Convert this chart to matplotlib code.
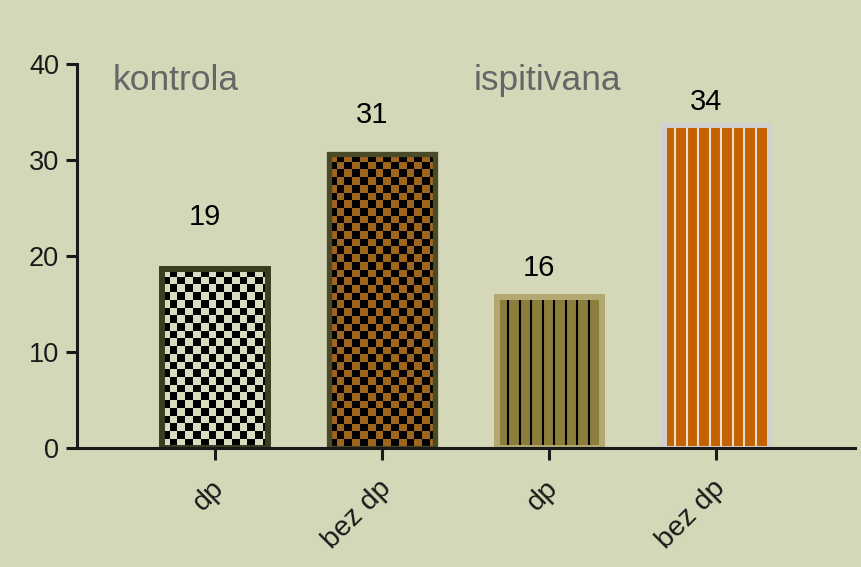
import numpy as np
import matplotlib
matplotlib.use("Agg")
import matplotlib.pyplot as plt

plt.rcParams["font.family"] = ["Liberation Sans", "DejaVu Sans"]

# data
categories = ["dp", "bez dp", "dp", "bez dp"]
values = [18.6, 30.6, 15.7, 33.6]
value_labels = ["19", "31", "16", "34"]
groups = ["kontrola", "ispitivana"]

bg = "#D4D8B8"
face_colors = ["#D8DCBE", "#A0641E", "#8B7D3A", "#C46200"]
edge_colors = ["#3A3F22", "#4B4A26", "#B3A871", "#D0D0D0"]
edge_widths = [4.3, 3.8, 4.3, 3.6]
patterns = ["checker", "checker", "vlines", "vlines"]
pattern_colors = ["black", "black", "black", "#EBDCCB"]

fig = plt.figure(figsize=(8.61, 5.67), dpi=100, facecolor=bg)
ax = fig.add_axes([0.0894, 0.2099, 0.9036, 0.6772])
ax.set_facecolor(bg)

x = np.arange(len(values))
width = 0.63
ax.set_xlim(-0.826, 3.83)
ax.set_ylim(0, 40)

# pixel scales
bbox = ax.get_window_extent()
px_x = bbox.width / (3.83 + 0.826)
px_y = bbox.height / 40.0
cell = 7.7  # checker square size in px
stripe = 11.55  # stripe spacing in px

bars = ax.bar(x, values, width=width, color=face_colors, linewidth=0, zorder=1)

for i, b in enumerate(bars):
    x0 = b.get_x()
    w = b.get_width()
    h = b.get_height()
    if patterns[i] == "checker":
        ncol = int(np.ceil(w * px_x / cell))
        nrow = int(np.ceil(h * px_y / cell))
        board = (np.add.outer(np.arange(nrow), np.arange(ncol)) % 2).astype(float)
        rgba = np.zeros((nrow, ncol, 4))
        light = matplotlib.colors.to_rgba(face_colors[i])
        rgba[board == 0] = light
        rgba[board == 1] = (0, 0, 0, 1)
        ext = (x0, x0 + ncol * cell / px_x, h - nrow * cell / px_y, h)
        im = ax.imshow(rgba, extent=ext, origin="upper", aspect="auto",
                       interpolation="nearest", zorder=2)
        im.set_clip_path(b)
    else:
        xs = np.arange(x0 + stripe / px_x, x0 + w, stripe / px_x)
        lc = ax.vlines(xs, 0, h, colors=pattern_colors[i], linewidth=1.5, zorder=2)
        lc.set_clip_path(b)
    ax.bar(x[i], values[i], width=width, fill=False, edgecolor=edge_colors[i],
           linewidth=edge_widths[i], zorder=3)

ax.set_xlim(-0.826, 3.83)
ax.set_ylim(0, 40)

# value labels
label_y = [24.1, 34.7, 18.75, 36.0]
for xi, ly, lab in zip(x, label_y, value_labels):
    ax.text(xi - 0.06, ly, lab, ha="center", va="center", fontsize=21, color="black")

# group titles
ax.text(-0.61, 37.3, groups[0], ha="left", va="baseline", fontsize=25.5, color="#666666")
ax.text(1.545, 37.3, groups[1], ha="left", va="baseline", fontsize=25.5, color="#666666")

for s in ["top", "right"]:
    ax.spines[s].set_visible(False)
for s in ["left", "bottom"]:
    ax.spines[s].set_linewidth(2.2)
    ax.spines[s].set_color("#1A1A1A")
    ax.spines[s].set_zorder(5)

ax.set_yticks([0, 10, 20, 30, 40])
ax.tick_params(axis="y", length=8, width=2.2, pad=5, labelsize=19.5, color="#1A1A1A",
               labelcolor="#1A1A1A")
ax.set_xticks(x)
ax.set_xticklabels(categories, rotation=45, ha="right", rotation_mode="anchor")
ax.tick_params(axis="x", length=8.5, width=2.2, pad=11, labelsize=20.5, color="#1A1A1A",
               labelcolor="#1A1A1A")

offset = matplotlib.transforms.ScaledTranslation(-4 / 100, 0, fig.dpi_scale_trans)
for lab in ax.get_xticklabels():
    lab.set_transform(lab.get_transform() + offset)

fig.savefig("out.png", dpi=100, facecolor=bg)
